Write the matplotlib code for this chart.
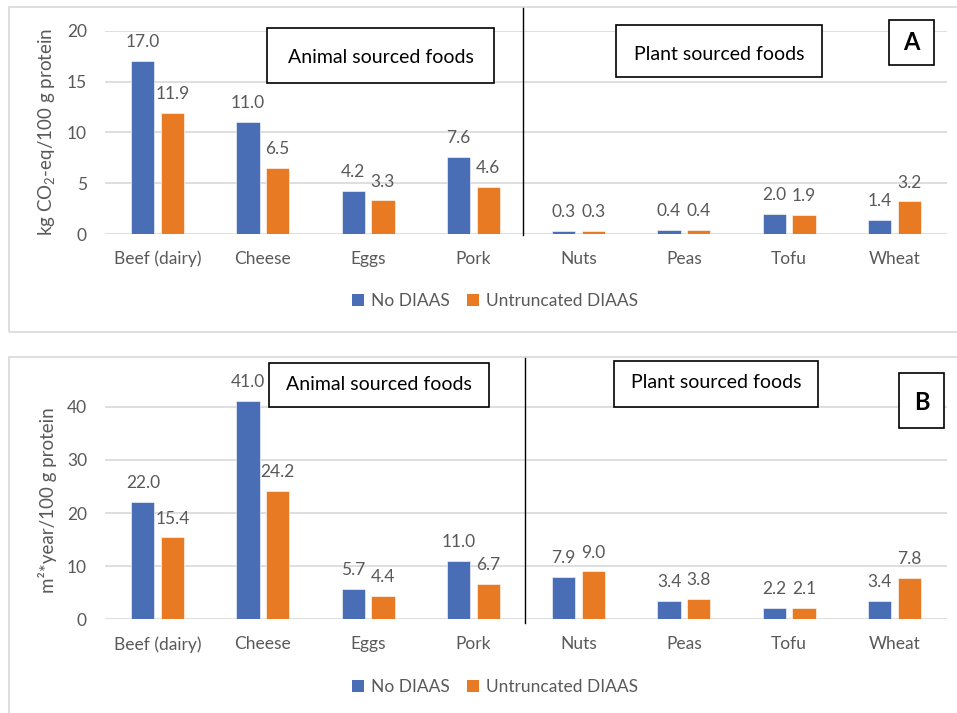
import matplotlib
matplotlib.use("Agg")
import matplotlib.pyplot as plt
from matplotlib.patches import Rectangle, Patch
from matplotlib.lines import Line2D
import numpy as np

plt.rcParams['font.family'] = ['Lato', 'DejaVu Sans']
plt.rcParams['mathtext.fontset'] = 'custom'
plt.rcParams['mathtext.rm'] = 'Lato'
plt.rcParams['mathtext.it'] = 'Lato:italic'

categories = ["Beef (dairy)", "Cheese", "Eggs", "Pork", "Nuts", "Peas", "Tofu", "Wheat"]
series_names = ["No DIAAS", "Untruncated DIAAS"]
ghg_no_diaas = [17.0, 11.0, 4.2, 7.6, 0.3, 0.4, 2.0, 1.4]
ghg_untrunc = [11.9, 6.5, 3.3, 4.6, 0.3, 0.4, 1.9, 3.2]
land_no_diaas = [22.0, 41.0, 5.7, 11.0, 7.9, 3.4, 2.2, 3.4]
land_untrunc = [15.4, 24.2, 4.4, 6.7, 9.0, 3.8, 2.1, 7.8]
ticks_a = [0, 5, 10, 15, 20]
ticks_b = [0, 10, 20, 30, 40]

BLUE = "#4A6EB5"
ORANGE = "#E87A23"
GRAY = "#595959"
GRID = "#D9D9D9"

W, H = 957, 713
fig = plt.figure(figsize=(W / 100, H / 100), dpi=100)

def fx(px):
    return px / W

def fy(py):
    return 1 - py / H

FS = 12.5

def panel(ax, v1, v2, ticks, ymax, ylabel):
    x = np.arange(len(categories))
    bw = 0.222
    off = 0.141
    ax.bar(x - off, v1, bw, color=BLUE, edgecolor="white", linewidth=0.4, zorder=3)
    ax.bar(x + off, v2, bw, color=ORANGE, edgecolor="white", linewidth=0.4, zorder=3)
    for xi, a, b in zip(x, v1, v2):
        ax.annotate(f"{a:.1f}", (xi - off, a), xytext=(0, 10), textcoords="offset points",
                    ha="center", va="baseline", fontsize=FS, color=GRAY, annotation_clip=False)
        ax.annotate(f"{b:.1f}", (xi + off, b), xytext=(0, 10), textcoords="offset points",
                    ha="center", va="baseline", fontsize=FS, color=GRAY, annotation_clip=False)
    ax.set_xlim(-0.5, len(categories) - 0.5)
    ax.set_ylim(0, ymax)
    ax.set_yticks(ticks)
    ax.set_xticks(x)
    ax.set_xticklabels(categories)
    for t in ticks:
        ax.axhline(t, color=GRID, linewidth=1.2, zorder=0)
    for s in ax.spines.values():
        s.set_visible(False)
    ax.tick_params(axis="both", length=0, labelsize=FS, colors=GRAY)
    ax.tick_params(axis="y", pad=13)
    ax.tick_params(axis="x", pad=12)
    ax.set_ylabel(ylabel, fontsize=13.5, color=GRAY, labelpad=7)
    ax.patch.set_alpha(0)

# Panel borders
fig.patches.append(Rectangle((fx(9), fy(332)), fx(980 - 9), fy(7) - fy(332), transform=fig.transFigure,
                             fill=False, edgecolor=GRID, linewidth=1.2, zorder=0))
fig.patches.append(Rectangle((fx(9), fy(730)), fx(980 - 9), fy(357) - fy(730), transform=fig.transFigure,
                             fill=False, edgecolor=GRID, linewidth=1.2, zorder=0))

axA = fig.add_axes([fx(105), fy(234), fx(947 - 105), fy(30.7) - fy(234)])
panel(axA, ghg_no_diaas, ghg_untrunc, ticks_a, 20, r"kg CO$_2$-eq/100 g protein")

ymaxB = 45
topB = 619.3 - ymaxB * (619.3 - 406.7) / 40
axB = fig.add_axes([fx(105), fy(619.3), fx(947 - 105), fy(topB) - fy(619.3)])
panel(axB, land_no_diaas, land_untrunc, ticks_b, ymaxB, "m²*year/100 g protein")

# Divider lines
fig.add_artist(Line2D([fx(523), fx(523)], [fy(8), fy(235)], color="black", linewidth=1.0))
fig.add_artist(Line2D([fx(525), fx(525)], [fy(358), fy(623)], color="black", linewidth=1.0))

def box(x0, y0, x1, y1, text, bold=False, size=14, dy=0):
    fig.patches.append(Rectangle((fx(x0), fy(y1)), fx(x1 - x0), fy(y0) - fy(y1), transform=fig.transFigure,
                                 facecolor="white", edgecolor="black", linewidth=1.2, zorder=5))
    fig.text(fx((x0 + x1) / 2), fy((y0 + y1) / 2 + dy), text, ha="center", va="center",
             fontsize=size, color="black", fontweight="bold" if bold else "normal", zorder=6)

box(267, 28, 494, 83, "Animal sourced foods", dy=2)
box(616, 25, 822, 77, "Plant sourced foods", dy=3)
box(889, 20, 934, 65, "A", bold=True, size=17)
box(269, 363, 489, 407, "Animal sourced foods")
box(614, 361, 818, 407, "Plant sourced foods", dy=-2)
box(899, 373, 944, 428, "B", bold=True, size=17, dy=2)

# Legends
handles = [Patch(facecolor=BLUE), Patch(facecolor=ORANGE)]
for ycen in (301, 687):
    fig.legend(handles, series_names, loc="center", bbox_to_anchor=(fx(495), fy(ycen)),
               ncol=2, frameon=False, fontsize=FS, labelcolor=GRAY,
               handlelength=0.7, handleheight=0.7, handletextpad=0.4, columnspacing=1.0)

fig.savefig("out.png", dpi=100)
